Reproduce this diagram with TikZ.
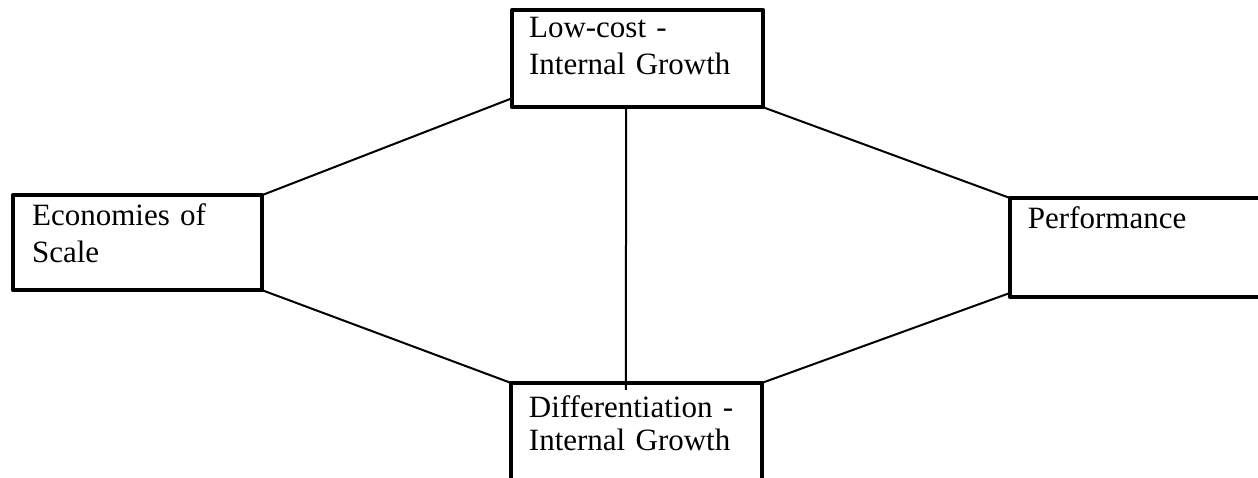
\documentclass[tikz,border=0pt]{standalone}
\usepackage{fontspec}
\setmainfont{Liberation Serif}
\usepackage{tikz}

\begin{document}
\begin{tikzpicture}[
  box/.style={draw,line width=2.25pt,line join=round,anchor=north west,outer sep=0pt,
    inner ysep=0pt,align=left,font=\fontsize{15.5pt}{18.5pt}\selectfont},
  link/.style={line width=1pt}]
\useasboundingbox (0,0) rectangle (22.11,8.40);

\node[box,inner xsep=8.5pt,text width=108.5pt,text height=13.5pt,text depth=35pt]
  (lowcost) at (9.00,8.22) {Low-cost -\\Internal Growth};
\node[box,inner xsep=9.5pt,text width=105.5pt,text height=15pt,text depth=32.5pt]
  (econ) at (0.23,4.97) {Economies of\\Scale};
\node[box,inner xsep=9pt,text width=114.5pt,text height=15.5pt,text depth=34pt]
  (perf) at (17.75,4.92) {Performance};
\node[box,inner xsep=9pt,text width=107.5pt,text height=17.5pt,text depth=36pt,
  font=\fontsize{15.5pt}{16.5pt}\selectfont]
  (diff) at (8.98,1.67) {Differentiation -\\Internal Growth};

\draw[link] (econ.north east) -- ([yshift=4.5pt]lowcost.south west);
\draw[link] (econ.south east) -- (diff.north west);
\draw[link] (lowcost.south east) -- (perf.north west);
\draw[link] (diff.north east) -- ([yshift=2pt]perf.south west);
\draw[link] ([xshift=57pt]lowcost.south west) -- ([xshift=57.5pt,yshift=-3.5pt]diff.north west);
\end{tikzpicture}
\end{document}
